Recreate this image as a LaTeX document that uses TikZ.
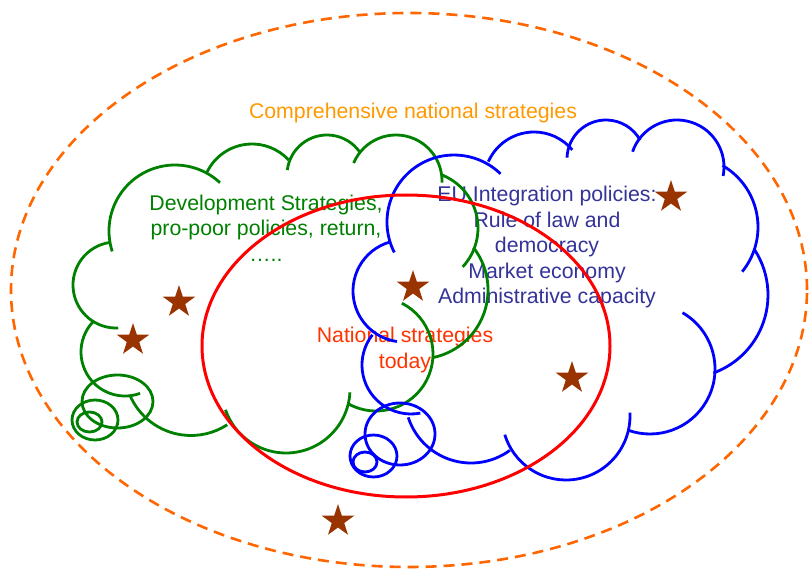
\documentclass[tikz,border=0pt]{standalone}
\usepackage{fontspec}
\setmainfont{Liberation Sans}
\usetikzlibrary{shapes.geometric}
\definecolor{cloudgreen}{RGB}{0,128,0}
\definecolor{cloudblue}{RGB}{0,0,255}
\definecolor{textblue}{RGB}{51,51,153}
\definecolor{titleorange}{RGB}{255,153,0}
\definecolor{dashorange}{RGB}{255,102,0}
\definecolor{todayred}{RGB}{255,51,0}
\definecolor{starbrown}{RGB}{153,51,0}
\tikzset{
    greencloud/.style = {draw=cloudgreen, line width=2.8pt},
    bluecloud/.style = {draw=cloudblue, line width=2.8pt},
    cloudtext/.style = {align=center, inner sep=0pt,
        font=\fontsize{21.3}{25.5}\selectfont},
    brownstar/.style = {star, star points=5, star point ratio=2.6,
        fill=starbrown, inner sep=0pt, minimum size=34pt}
}
% one bump of a cloud: centre x, centre y (downwards), radius, start, end
\newcommand{\cloudbump}[5]{\draw (#1,-#2) ++(#4:#3pt) arc[start angle=#4, end angle=#5, radius=#3pt];}

\begin{document}
\begin{tikzpicture}[x=1pt, y=1pt]
    \useasboundingbox (0,0) rectangle (809,-569);
    \draw[dashorange, line width=2.6pt, dash pattern=on 11pt off 7pt]
        (409,-290) ellipse [x radius=398pt, y radius=277pt];

    \node[cloudtext, text=titleorange] (comp) at (413,-113) {Comprehensive national strategies};
    \node[cloudtext, text=cloudgreen] (dev) at (266,-228) {Development Strategies,\\pro-poor policies, return,\\…..};
    \node[cloudtext, text=textblue] (eu) at (547,-247) {EU Integration policies:\\Rule of law and\\democracy\\Market economy\\Administrative capacity};
    \node[cloudtext, text=todayred] (today) at (405,-350) {National strategies\\today};

    % development cloud
    \begin{scope}[greencloud]
        \cloudbump{175}{231}{66}{198}{47}
        \cloudbump{252}{194}{50}{154}{43}
        \cloudbump{327}{175}{40}{173}{35}
        \cloudbump{396}{181}{46}{157}{-2}
        \cloudbump{421}{228}{57}{68}{-43}
        \cloudbump{419}{290}{69}{38}{-78}
        \cloudbump{376}{354}{57}{63}{-119}
        \cloudbump{286}{389}{64}{-3}{-161}
        \cloudbump{191}{369}{66.5}{203}{303}
        \cloudbump{125}{352}{44}{137}{290}
        \cloudbump{116}{285}{43}{98}{273}
        \draw (117.5,-401.5) ellipse [x radius=35.5pt, y radius=26.5pt];
        \draw (95,-420) ellipse [x radius=23pt, y radius=20pt];
        \draw (89.5,-422) ellipse [x radius=12.5pt, y radius=10pt];
    \end{scope}

    % EU cloud
    \begin{scope}[bluecloud]
        \cloudbump{454}{222}{67}{207}{46}
        \cloudbump{534}{182}{50}{156}{40}
        \cloudbump{606}{159}{39}{178}{29}
        \cloudbump{677}{167}{47}{161}{-11}
        \cloudbump{687}{227}{71}{60}{-39}
        \cloudbump{685}{295}{83}{33}{-70}
        \cloudbump{650}{369}{65}{60}{-110}
        \cloudbump{566}{416}{64}{3}{-163}
        \cloudbump{471}{397}{66}{198}{306}
        \cloudbump{411}{365}{49}{142}{281}
        \cloudbump{404}{291}{51}{106}{262}
        \draw (400,-434) ellipse [x radius=35pt, y radius=31pt];
        \draw (373.5,-456) ellipse [x radius=23.5pt, y radius=21pt];
        \draw (365,-462) ellipse [x radius=12pt, y radius=10pt];
    \end{scope}

    \draw[red, line width=3pt] (406,-346) ellipse [x radius=204pt, y radius=151pt];

    \node[brownstar] (s1) at (179,-302) {};
    \node[brownstar] (s2) at (133,-340) {};
    \node[brownstar] (s3) at (413,-287) {};
    \node[brownstar] (s4) at (671,-197) {};
    \node[brownstar] (s5) at (572,-378) {};
    \node[brownstar] (s6) at (338,-521) {};
\end{tikzpicture}
\end{document}
